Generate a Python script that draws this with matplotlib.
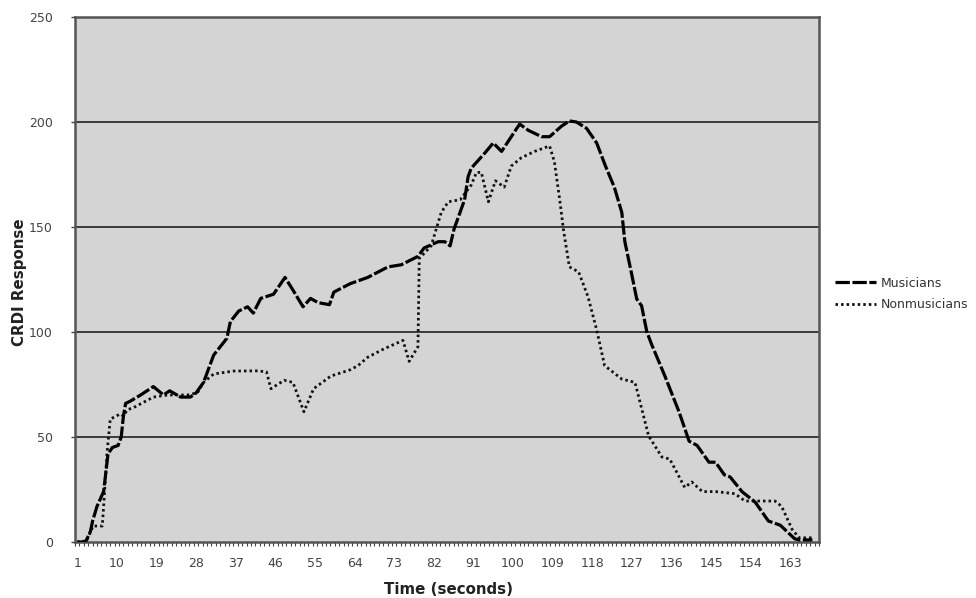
import matplotlib
matplotlib.use("Agg")
import matplotlib.pyplot as plt
import numpy as np

# ---- data ----
n_categories = 169
tick_labels = [str(v) for v in range(1, 164, 9)]

mus_t = [1, 2, 3, 4, 4.5, 5.5, 7, 8, 9, 10.3, 11, 11.5, 12, 13, 15.4, 18.3, 20.6, 22,
         24.5, 26.7, 28, 29.7, 32, 35, 35.8, 37.7, 39.7, 41, 42.7, 45.6, 48.2, 50,
         52.3, 54, 55.7, 58.3, 59.3, 63, 67, 71.6, 74.6, 78.4, 79.8, 83, 84.5, 85.7,
         86.6, 89, 89.8, 90.5, 93.5, 95.5, 97.4, 99.6, 101.5, 103.5, 106.5, 108.3,
         111, 112.8, 114.4, 116.7, 119, 121, 123, 124.7, 125.4, 127, 128.1, 129.2,
         130.4, 131.5, 134.5, 137.7, 140, 141.8, 144.5, 146, 148, 149.3, 152, 155,
         158, 160.7, 164, 165, 168]
mus_v = [0, 0, 0.5, 5, 10, 17, 24, 42, 45, 46, 50, 60, 66, 67, 70, 74, 70, 72,
         69, 69, 71, 76, 89, 97, 105, 110, 112, 109, 116, 118, 126, 120,
         112, 116, 114, 113, 119, 123, 126, 131, 132, 136, 140, 143, 143, 141,
         149, 163, 174, 178, 185, 190, 186, 193, 199, 196, 193, 193,
         198, 200.5, 200, 197, 190, 179, 169, 157, 143, 127, 115.7, 112.5,
         100, 94, 79, 62, 48, 46, 38, 38, 32, 31, 24, 19,
         10, 8, 1.5, 1, 1]

non_t = [1, 3, 4.6, 6.7, 7, 7.8, 8.5, 10.8, 11.5, 12.4, 13.8, 18.3, 21.5, 26, 28.3,
         29.7, 32, 36.5, 42, 44, 45, 48, 50, 52.5, 54.7, 58.6, 63, 64.8, 67, 70.7,
         75, 76.4, 78.4, 78.7, 81.4, 83.7, 85.3, 88, 90.5, 91.7, 92.8, 94.4, 96, 98,
         99.6, 101.9, 104.9, 108.3, 109.4, 110.6, 111.5, 112.8, 114.9, 117, 119,
         120.8, 124.7, 127.7, 128.8, 130.8, 133.8, 135.6, 139, 140.6, 143, 146,
         150.4, 152.7, 159.5, 161, 163.4, 165, 168]
non_v = [0, 0, 7.6, 7.6, 17, 43, 58.5, 61, 60, 63, 64, 69, 70, 70, 71,
         76, 80, 81.4, 81.5, 81, 73, 77, 76, 62, 73, 79, 82, 84, 88, 92,
         96, 86, 93, 135, 141, 157, 162, 163, 170, 176, 176, 162, 172, 169,
         179, 183, 186, 188.6, 181, 163, 148, 131, 128.6, 117, 101,
         84, 77.6, 76, 67, 50.5, 40.5, 39.5, 26, 28.6, 24, 24,
         23, 19.5, 19.5, 17, 6, 2, 2]

# ---- figure ----
fig = plt.figure(figsize=(9.76, 5.98), dpi=100)
ax = fig.add_axes([75/976, 1-542/598, (819-75)/976, (542-17)/598])
ax.set_facecolor("#d4d4d4")

for y in [50, 100, 150, 200]:
    ax.axhline(y, color="#111111", lw=1.1, zorder=1)

ax.plot(mus_t, mus_v, color="black", lw=2.3, linestyle=(0, (4.5, 0.8)),
        label="Musicians", zorder=3)
ax.plot(non_t, non_v, color="#111111", lw=2.0, linestyle=(0, (0.9, 1.1)),
        label="Nonmusicians", zorder=2)

ax.set_xlim(0.5, n_categories + 0.5)
ax.set_ylim(0, 250)

label_pos = list(range(1, 164, 9))
ax.set_xticks(label_pos)
ax.set_xticklabels(tick_labels)
ax.set_xticks(np.arange(0.5, n_categories + 1, 1), minor=True)
ax.tick_params(axis="x", which="major", length=0, pad=11, labelsize=9, labelcolor="#444444")
ax.tick_params(axis="x", which="minor", length=3, width=0.8, color="#444444", direction="out")

ax.set_yticks([0, 50, 100, 150, 200, 250])
ax.tick_params(axis="y", length=3, width=1, color="#444444", pad=13, labelsize=9,
               labelcolor="#444444")

for s in ax.spines.values():
    s.set_color("#555555")
    s.set_linewidth(1.8)

fig.text(20/976, 1-282/598, "CRDI Response", rotation=90, ha="center", va="center",
         fontsize=10.8, fontweight="bold", color="#222222")
fig.text(449/976, 1-590/598, "Time (seconds)", ha="center", va="center",
         fontsize=10.8, fontweight="bold", color="#222222")

leg = ax.legend(loc="center left", bbox_to_anchor=(835/976, 1-294/598),
                bbox_transform=fig.transFigure, frameon=False,
                fontsize=9, handlelength=3.3, handletextpad=0.4, labelspacing=0.7,
                borderaxespad=0, borderpad=0)
for t in leg.get_texts():
    t.set_color("#333333")

fig.savefig("out.png", dpi=100)
